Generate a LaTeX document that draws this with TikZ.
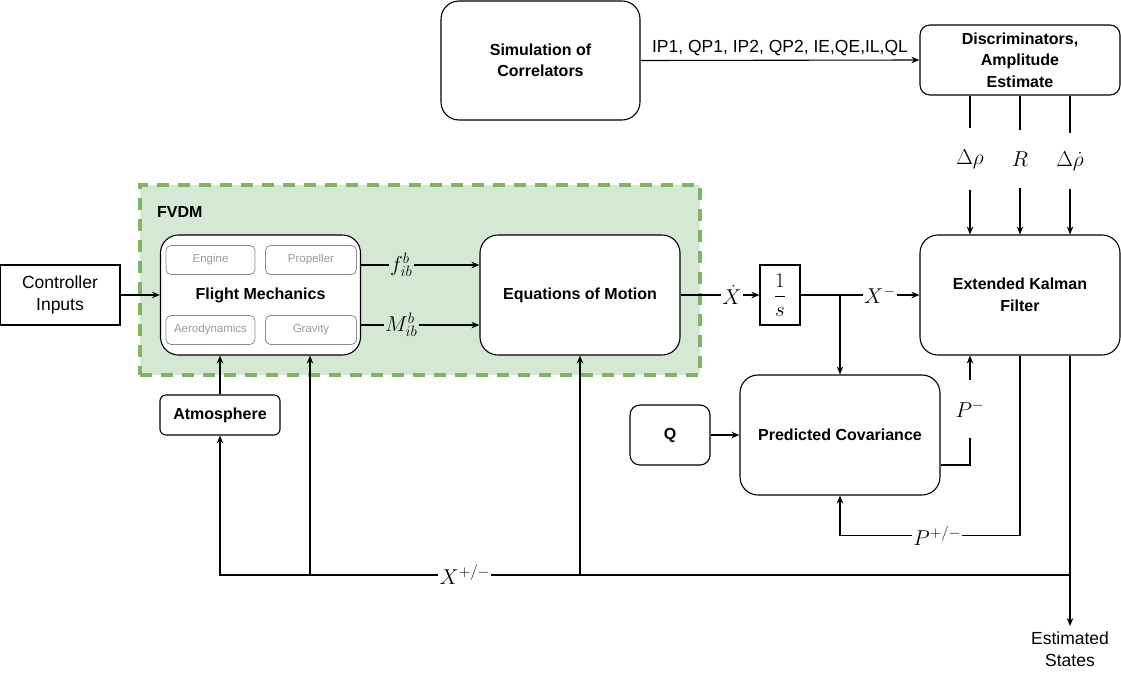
\RequirePackage{fix-cm}
\documentclass[tikz,border=0pt]{standalone}
\usepackage[no-math]{fontspec}
\setmainfont{Liberation Sans}
\usetikzlibrary{arrows.meta}
\definecolor{fvfill}{HTML}{D5E8D4}
\definecolor{fvdraw}{HTML}{82B366}
\definecolor{subdraw}{HTML}{8C8C8C}
\definecolor{subtext}{HTML}{9A9A9A}
\tikzset{
  blk/.style={draw, line width=1.1pt, fill=white, rounded corners=#1, align=center,
    inner sep=0pt, font=\bfseries\fontsize{16}{21.5}\selectfont},
  blk/.default=18pt,
  plainbox/.style={draw, line width=1.1pt, fill=white, align=center, inner sep=0pt,
    font=\fontsize{17.5}{22}\selectfont},
  subbox/.style={draw=subdraw, line width=0.8pt, fill=white, rounded corners=5pt,
    minimum height=29pt, inner sep=0pt, text=subtext, font=\fontsize{11.5}{13}\selectfont},
  fvdm/.style={draw=fvdraw, fill=fvfill, line width=4pt, dash pattern=on 12pt off 9pt},
  conn/.style={line width=1.1pt},
  arr/.style={line width=1.1pt, -{Stealth[length=8pt,width=6.5pt]}},
  mlab/.style={fill=white, inner sep=1.5pt, font=\fontsize{21.5}{24}\selectfont},
  glab/.style={fill=fvfill, inner sep=1.5pt, font=\fontsize{21.5}{24}\selectfont},
  vlab/.style={inner sep=0pt, minimum height=#1, font=\fontsize{21.5}{24}\selectfont},
  txt/.style={align=center, inner sep=0pt, font=\fontsize{17.5}{22}\selectfont},
}
\begin{document}
\begin{tikzpicture}[x=1pt,y=-1pt]
\useasboundingbox (0,0) rectangle (1121,672);

% FVDM container
\node[fvdm, minimum width=560pt, minimum height=190pt] (fv) at (420,280) {};
\node[anchor=west, inner sep=0pt, font=\bfseries\fontsize{16}{19}\selectfont] (fvl) at (157,212) {FVDM};

% blocks
\node[blk, minimum width=199pt, minimum height=119pt] (sim) at (540.5,60.5) {Simulation of\\Correlators};
\node[blk=10pt, minimum width=200pt, minimum height=70pt] (disc) at (1020,60) {Discriminators,\\Amplitude\\Estimate};
\node[blk, minimum width=200pt, minimum height=120pt] (ekf) at (1020,295) {Extended Kalman\\Filter};
\node[blk, minimum width=200pt, minimum height=120pt] (fm) at (260.5,295) {Flight Mechanics};
\node[blk, minimum width=200pt, minimum height=120pt] (eom) at (580,295) {Equations of Motion};
\node[plainbox, minimum width=120pt, minimum height=60pt] (ctrl) at (60,295) {Controller\\Inputs};
\node[plainbox, minimum width=40pt, minimum height=60pt] (integ) at (780,295) {\fontsize{21}{24}\selectfont$\displaystyle\frac{1}{s}$};
\node[blk, minimum width=200pt, minimum height=120pt] (pc) at (840,435) {Predicted Covariance};
\node[blk=10pt, minimum width=80pt, minimum height=60pt] (q) at (670,435) {Q};
\node[blk=6pt, minimum width=120pt, minimum height=40pt] (atm) at (220,415) {Atmosphere};

% sub-blocks of flight mechanics
\node[subbox, minimum width=89pt] (eng) at (210.5,260) {Engine};
\node[subbox, minimum width=91pt] (prop) at (311,260) {Propeller};
\node[subbox, minimum width=89pt] (aero) at (210.5,330) {Aerodynamics};
\node[subbox, minimum width=91pt] (grav) at (311,330) {Gravity};

% correlators to discriminators
\draw[arr] (sim.east) -- node[above=3pt, inner sep=1pt, font=\fontsize{17.5}{21}\selectfont] (corrlab) {IP1, QP1, IP2, QP2, IE,QE,IL,QL} (disc.west);

% discriminator outputs
\node[vlab=62pt] (dr) at (970,159) {$\Delta\rho$};
\node[vlab=58pt] (rr) at (1020,159) {$R$};
\node[vlab=56pt] (ddr) at (1070,161) {$\Delta\dot{\rho}$};
\draw[conn] (disc.south -| dr) -- (dr.north);
\draw[conn] (disc.south -| rr) -- (rr.north);
\draw[conn] (disc.south -| ddr) -- (ddr.north);
\draw[arr] (dr.south) -- (ekf.north -| dr);
\draw[arr] (rr.south) -- (ekf.north -| rr);
\draw[arr] (ddr.south) -- (ekf.north -| ddr);

% FVDM internal
\draw[arr] (ctrl.east) -- (fm.west);
\draw[arr] ([yshift=30pt]fm.east) -- node[glab, pos=0.34] (flab) {$f^b_{ib}$} ([yshift=30pt]eom.west);
\draw[arr] ([yshift=-30pt]fm.east) -- node[glab, pos=0.34] (mlabel) {$M^b_{ib}$} ([yshift=-30pt]eom.west);

% integrator and filter
\draw[arr] (eom.east) -- node[mlab, pos=0.65] (xdot) {$\dot{X}$} (integ.west);
\draw[arr] (integ.east) -- node[mlab, pos=0.667] (xm) {$X^-$} (ekf.west);
\coordinate (br) at (840,295);
\draw[arr] (br) -- (pc.north);
\draw[arr] (q.east) -- (pc.west);

% P minus
\node[vlab=58pt] (pm) at (970,409) {$P^-$};
\draw[conn] ([yshift=-30pt]pc.east) -| (pm.south);
\draw[arr] (pm.north) -- (ekf.south -| pm);

% P plus/minus
\draw[arr] (ekf.south) -- ++(0,180) -| node[mlab, pos=0.23] (pp) {$P^{+/-}$} (pc.south);

% estimated states
\node[txt, anchor=north] (est) at (1070,632) {Estimated\\States};
\draw[arr] ([xshift=50pt]ekf.south) -- ([yshift=6pt]est.north);

% X plus/minus feedback
\coordinate (jx) at (1070,575);
\coordinate (j1) at (310,575);
\coordinate (j2) at (580,575);
\draw[arr] (jx) -- node[mlab, pos=0.712] (xpm) {$X^{+/-}$} (atm.south |- jx) -- (atm.south);
\draw[arr] (j1) -- (j1 |- fm.south);
\draw[arr] (j2) -- (eom.south);
\draw[arr] (atm.north) -- (atm.north |- fm.south);
\end{tikzpicture}
\end{document}
